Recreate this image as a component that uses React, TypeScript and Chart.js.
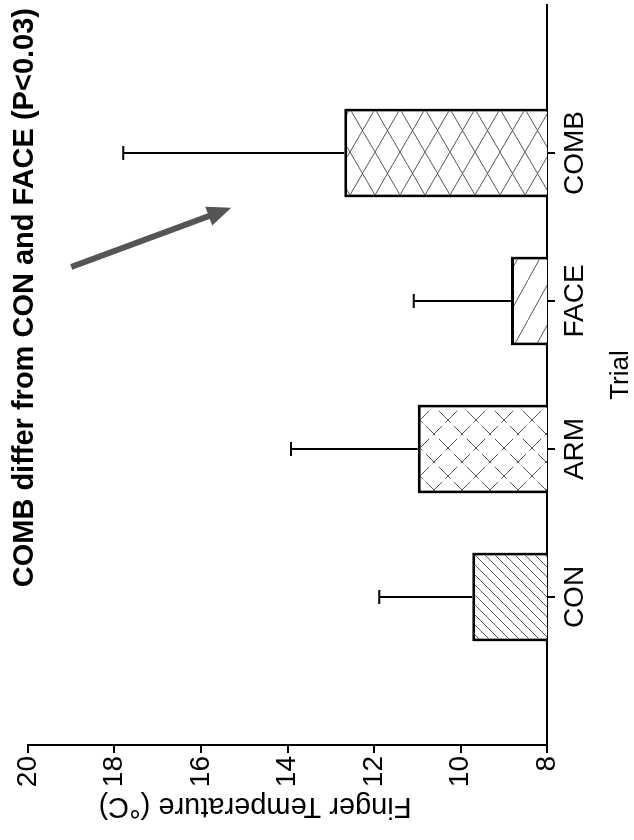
import React, { useEffect, useRef } from "react";
import { Chart, registerables } from "chart.js";

Chart.register(...registerables);

// ---- data ----
const categories = ["CON", "ARM", "FACE", "COMB"];
const meanTemp = [9.73, 10.99, 8.83, 12.69];
const semTemp = [2.15, 2.93, 2.25, 5.11];
const yMin = 8;
const yMax = 20;
const yStep = 2;
const chartTitle = "COMB differ from CON and FACE (P<0.03)";
const yTitle = "Finger Temperature (°C)";
const xTitle = "Trial";
// arrow annotation in data coords: [category position (CON = 1), temperature]
const arrowTail = [3.23, 19.0];
const arrowHead = [3.63, 15.3];

const FONT = "'Liberation Sans', Arial, Helvetica, sans-serif";

function makeHatch(kind: string): CanvasPattern | string {
  const c = document.createElement("canvas");
  let W = 10, H = 10;
  if (kind === "con") { W = 10; H = 10; }
  if (kind === "arm") { W = 28; H = 28; }
  if (kind === "face") { W = 40; H = 22; }
  if (kind === "comb") { W = 43; H = 25; }
  c.width = W; c.height = H;
  const g = c.getContext("2d")!;
  g.fillStyle = "#fff";
  g.fillRect(0, 0, W, H);
  g.strokeStyle = "#555";
  g.lineWidth = 1;
  if (kind === "arm") g.setLineDash([13, 5]);
  const down = () => { // "\" direction
    for (let k = -1; k <= 1; k++) {
      g.beginPath(); g.moveTo(k * W, 0); g.lineTo(k * W + W, H); g.stroke();
    }
  };
  const up = () => { // "/" direction
    for (let k = -1; k <= 1; k++) {
      g.beginPath(); g.moveTo(k * W, H); g.lineTo(k * W + W, 0); g.stroke();
    }
  };
  if (kind === "con") up();
  if (kind === "face") down();
  if (kind === "arm" || kind === "comb") { up(); down(); }
  const ctx = document.createElement("canvas").getContext("2d")!;
  return ctx.createPattern(c, "repeat") || "#fff";
}

export default function App() {
  const ref = useRef<HTMLCanvasElement>(null);
  useEffect(() => {
    const canvas = ref.current!;
    const labels = ["", ...categories, ""];
    const values: (number | null)[] = [null, ...meanTemp, null];
    const fills = ["#fff", makeHatch("con"), makeHatch("arm"), makeHatch("face"), makeHatch("comb"), "#fff"];

    const overlay = {
      id: "overlay",
      afterDatasetsDraw(chart: any) {
        const ctx = chart.ctx;
        const xs = chart.scales.x;
        const ys = chart.scales.y;
        ctx.save();
        // error bars
        ctx.strokeStyle = "#000";
        ctx.lineWidth = 2;
        meanTemp.forEach((m, i) => {
          const px = Math.round(xs.getPixelForValue(i + 1));
          const y0 = ys.getPixelForValue(m);
          const y1 = ys.getPixelForValue(m + semTemp[i]);
          ctx.beginPath();
          ctx.moveTo(px, y0);
          ctx.lineTo(px, y1);
          ctx.moveTo(px - 7, y1);
          ctx.lineTo(px + 7, y1);
          ctx.stroke();
        });
        // arrow
        const tx = xs.getPixelForValue(arrowTail[0]);
        const ty = ys.getPixelForValue(arrowTail[1]);
        const hx = xs.getPixelForValue(arrowHead[0]);
        const hy = ys.getPixelForValue(arrowHead[1]);
        const dx = hx - tx, dy = hy - ty;
        const len = Math.hypot(dx, dy);
        const ux = dx / len, uy = dy / len;
        const headLen = 24, headHalf = 10;
        ctx.strokeStyle = "#555";
        ctx.fillStyle = "#555";
        ctx.lineWidth = 6;
        ctx.beginPath();
        ctx.moveTo(tx, ty);
        ctx.lineTo(hx - ux * (headLen - 4), hy - uy * (headLen - 4));
        ctx.stroke();
        ctx.beginPath();
        ctx.moveTo(hx, hy);
        ctx.lineTo(hx - ux * headLen - uy * headHalf, hy - uy * headLen + ux * headHalf);
        ctx.lineTo(hx - ux * headLen + uy * headHalf, hy - uy * headLen - ux * headHalf);
        ctx.closePath();
        ctx.fill();
        ctx.restore();
      },
      afterDraw(chart: any) {
        const ctx = chart.ctx;
        const area = chart.chartArea;
        ctx.save();
        ctx.fillStyle = "#000";
        ctx.font = `bold 29px ${FONT}`;
        ctx.textAlign = "right";
        ctx.textBaseline = "alphabetic";
        ctx.fillText(chartTitle, area.right - 3, 33);
        ctx.font = `29px ${FONT}`;
        ctx.textAlign = "center";
        ctx.textBaseline = "middle";
        ctx.translate(34, area.top + 227);
        ctx.rotate(-Math.PI / 2);
        ctx.fillText(yTitle, 0, 0);
        ctx.restore();
      },
    };

    const chart = new Chart(canvas, {
      type: "bar",
      data: {
        labels,
        datasets: [
          {
            data: values,
            backgroundColor: fills as any,
            borderColor: "#000",
            borderWidth: 3,
            borderSkipped: false,
            categoryPercentage: 1,
            barPercentage: 0.6,
          },
        ],
      },
      options: {
        responsive: false,
        animation: false,
        devicePixelRatio: 1,
        layout: { padding: { top: 28, right: 5, left: 0, bottom: 0 } },
        plugins: {
          legend: { display: false },
          tooltip: { enabled: false },
          title: { display: false },
        },
        scales: {
          x: {
            type: "category",
            offset: false,
            grid: {
              offset: false,
              drawOnChartArea: false,
              drawTicks: true,
              tickLength: 8,
              lineWidth: 2,
              color: (c: any) =>
                c.index === 0 || c.index === labels.length - 1 ? "rgba(0,0,0,0)" : "#000",
            },
            border: { display: true, color: "#000", width: 2 },
            ticks: {
              color: "#000",
              font: { size: 28, family: FONT },
              padding: 3,
              maxRotation: 0,
              minRotation: 0,
              autoSkip: false,
            },
            title: {
              display: true,
              text: xTitle,
              color: "#000",
              font: { size: 26, family: FONT, lineHeight: 1 },
              padding: 0,
            },
            afterFit: (s: any) => { s.height = 87; },
          },
          y: {
            type: "linear",
            min: yMin,
            max: yMax,
            ticks: {
              stepSize: yStep,
              color: "#000",
              font: { size: 28, family: FONT },
              padding: 3,
            },
            grid: {
              drawOnChartArea: false,
              drawTicks: true,
              tickLength: 8,
              lineWidth: 2,
              color: "#000",
            },
            border: { display: true, color: "#000", width: 2 },
            afterFit: (s: any) => { s.width = 95; },
          },
        },
      },
      plugins: [overlay],
    } as any);
    return () => chart.destroy();
  }, []);

  return (
    <div style={{ position: "absolute", left: 0, top: 0, width: 634, height: 840, overflow: "hidden", background: "#fff" }}>
      <div
        style={{
          position: "absolute",
          left: 0,
          top: 0,
          width: 840,
          height: 634,
          transformOrigin: "0 0",
          transform: "translate(0px, 840px) rotate(-90deg)",
        }}
      >
        <canvas ref={ref} width={840} height={634} style={{ display: "block" }} />
      </div>
    </div>
  );
}
